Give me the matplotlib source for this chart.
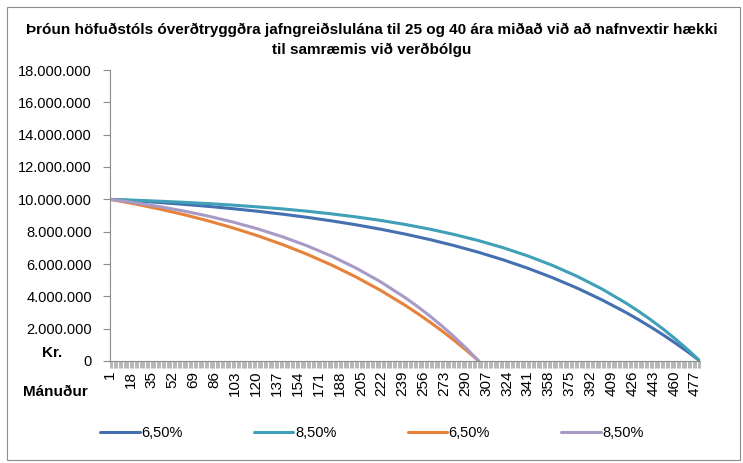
import matplotlib.pyplot as plt
from matplotlib.patches import Rectangle
from matplotlib.ticker import FuncFormatter

# balance (kr.); denser near the end where the curves bend
months_40 = list(range(1, 422, 20)) + [431, 441, 451, 461, 471, 481]
months_25 = list(range(1, 242, 20)) + [251, 261, 271, 281, 291, 301]

bal_40_65 = [10000000, 9908000, 9805000, 9690000, 9563000, 9421000, 9263000, 9086000,
             8890000, 8671000, 8427000, 8155000, 7852000, 7515000, 7139000, 6721000,
             6254000, 5735000, 5156000, 4511000, 3792000, 2992000,
             2558000, 2100000, 1617000, 1106000, 568000, 0]
bal_40_85 = [10000000, 9947000, 9886000, 9816000, 9735000, 9642000, 9534000, 9411000,
             9268000, 9104000, 8915000, 8698000, 8448000, 8159000, 7827000, 7444000,
             7004000, 6497000, 5913000, 5240000, 4465000, 3573000,
             3078000, 2546000, 1975000, 1362000, 706000, 0]
bal_25_65 = [10000000, 9719000, 9405000, 9056000, 8667000, 8234000, 7751000, 7213000,
             6614000, 5947000, 5203000, 4374000, 3451000,
             2951000, 2423000, 1865000, 1277000, 656000, 0]
bal_25_85 = [10000000, 9793000, 9554000, 9279000, 8962000, 8597000, 8177000, 7693000,
             7136000, 6495000, 5756000, 4905000, 3925000,
             3381000, 2797000, 2170000, 1497000, 775000, 0]

labels = ["6,50%", "8,50%", "6,50%", "8,50%"]
colors = ["#4470B0", "#40A0B8", "#E6823A", "#A89AC6"]

n_months = 481
title = ("Þróun höfuðstóls óverðtryggðra jafngreiðslulána til 25 og 40 ára miðað við að nafnvextir hækki\n"
         "til samræmis við verðbólgu")

W, H = 743, 463
plt.rcParams["font.family"] = ["Liberation Sans", "DejaVu Sans"]

fig = plt.figure(figsize=(W / 100, H / 100), dpi=100)
fig.patches.append(Rectangle((7 / W, 3 / H), 733 / W, 453 / H, transform=fig.transFigure,
                             fill=False, edgecolor="#8C8C8C", linewidth=0.8))

ax = fig.add_axes([110 / W, (H - 361) / H, 590 / W, 291 / H])

series = [(months_40, bal_40_65), (months_40, bal_40_85),
          (months_25, bal_25_65), (months_25, bal_25_85)]
for (x, y), lab, c in zip(series, labels, colors):
    ax.plot(x, y, color=c, lw=2.2, label=lab, solid_capstyle="round")

ax.set_xlim(1, n_months)
ax.set_ylim(0, 18000000)
ax.set_yticks(range(0, 18000001, 2000000))
ax.yaxis.set_major_formatter(FuncFormatter(lambda v, p: f"{int(v):,}".replace(",", ".")))
ax.set_xticks(range(1, n_months, 17))
ax.set_xticks(range(1, n_months + 1), minor=True)
ax.tick_params(axis="x", which="both", length=5, width=0.5, color="#9A9A9A",
               labelrotation=90, labelsize=11, pad=2)
ax.tick_params(axis="y", length=5, width=0.8, color="#8C8C8C", labelsize=10.5, pad=8)
for s in ["top", "right"]:
    ax.spines[s].set_visible(False)
for s in ["left", "bottom"]:
    ax.spines[s].set_color("#8C8C8C")
    ax.spines[s].set_linewidth(0.8)

fig.text(372 / W, 1 - 40 / H, title, ha="center", va="center", fontsize=11,
         fontweight="bold", linespacing=1.6)
fig.text(52 / W, 1 - 353 / H, "Kr.", ha="center", va="center", fontsize=11,
         fontweight="bold")
fig.text(55 / W, 1 - 392 / H, "Mánuður", ha="center", va="center", fontsize=11,
         fontweight="bold")

fig.legend(loc="center", bbox_to_anchor=(372 / W, 1 - 433 / H), ncol=4, frameon=False,
           fontsize=10.5, handlelength=2.7, handletextpad=0.1, columnspacing=4.9)

fig.savefig("out.png", dpi=100)
